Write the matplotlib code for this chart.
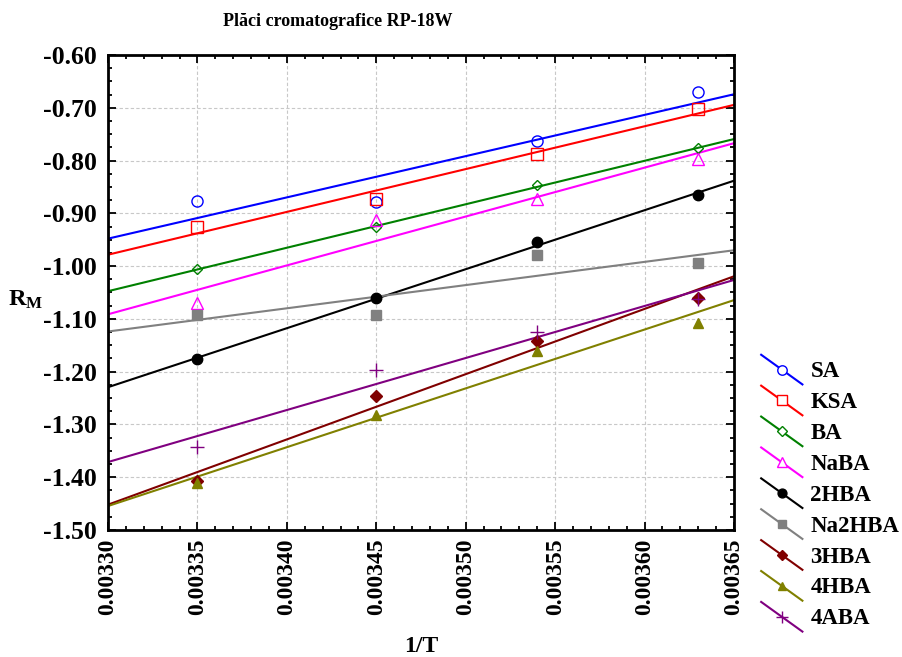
import numpy as np
import matplotlib
matplotlib.use("Agg")
import matplotlib.pyplot as plt
from matplotlib.lines import Line2D
from matplotlib.legend_handler import HandlerBase
from matplotlib.ticker import MultipleLocator, FormatStrFormatter

# 1/T values of the four temperatures
inv_t = [0.003350, 0.003450, 0.003540, 0.003630]

# R_M values per compound
sa = [-0.877, -0.879, -0.763, -0.671]
ksa = [-0.926, -0.873, -0.788, -0.702]
ba = [-1.006, -0.926, -0.847, -0.777]
naba = [-1.069, -0.913, -0.873, -0.797]
hba2 = [-1.176, -1.061, -0.955, -0.865]
na2hba = [-1.093, -1.092, -0.978, -0.994]
hba3 = [-1.407, -1.247, -1.142, -1.060]
hba4 = [-1.411, -1.282, -1.160, -1.107]
aba4 = [-1.343, -1.196, -1.124, -1.063]

series = [
    ("SA", sa, "#0000ff", "o", False, 8),
    ("KSA", ksa, "#ff0000", "s", False, 8),
    ("BA", ba, "#008000", "D", False, 5.5),
    ("NaBA", naba, "#ff00ff", "^", False, 8),
    ("2HBA", hba2, "#000000", "o", True, 7.5),
    ("Na2HBA", na2hba, "#808080", "s", True, 7.5),
    ("3HBA", hba3, "#800000", "D", True, 6),
    ("4HBA", hba4, "#808000", "^", True, 7.5),
    ("4ABA", aba4, "#800080", "+", True, 10),
]

plt.rcParams["font.family"] = "Liberation Serif"
plt.rcParams["font.weight"] = "bold"
plt.rcParams["mathtext.fontset"] = "custom"
plt.rcParams["mathtext.bf"] = "Liberation Serif:bold"
plt.rcParams["mathtext.rm"] = "Liberation Serif:bold"


class DiagonalHandler(HandlerBase):
    # legend key drawn as a falling diagonal with the marker in the middle
    def create_artists(self, legend, orig_handle, xdescent, ydescent,
                       width, height, fontsize, trans):
        x0, x1 = -xdescent, width - xdescent
        y0, y1 = height * 1.4 - ydescent, -height * 0.45 - ydescent
        ln = Line2D([x0, x1], [y0, y1], color=orig_handle.get_color(),
                    lw=orig_handle.get_linewidth())
        mk = Line2D([(x0 + x1) / 2], [(y0 + y1) / 2],
                    marker=orig_handle.get_marker(),
                    markersize=orig_handle.get_markersize() * 0.85,
                    markerfacecolor=orig_handle.get_markerfacecolor(),
                    markeredgecolor=orig_handle.get_markeredgecolor(),
                    markeredgewidth=orig_handle.get_markeredgewidth(),
                    ls="none")
        ln.set_transform(trans)
        mk.set_transform(trans)
        return [ln, mk]


fig = plt.figure(figsize=(9.03, 6.57), dpi=100)
ax = fig.add_axes([108 / 903, 1 - 530 / 657, 626 / 903, 475 / 657])

x = np.array(inv_t)
xfit = np.array([0.00330, 0.00365])
handles = []
for name, vals, col, mk, filled, ms in series:
    # least-squares regression line over the full axis span
    k, b = np.polyfit(x, np.array(vals), 1)
    ax.plot(xfit, k * xfit + b, color=col, lw=1.5, zorder=2)
    ax.plot(x, vals, ls="none", marker=mk, markersize=ms,
            markerfacecolor=col if filled else "none", markeredgecolor=col,
            markeredgewidth=1.0, zorder=3)
    handles.append(Line2D([], [], color=col, lw=1.5, marker=mk, markersize=ms,
                          markerfacecolor=col if filled else "white",
                          markeredgecolor=col, markeredgewidth=1.0, label=name))

ax.set_xlim(0.00330, 0.00365)
ax.set_ylim(-1.50, -0.60)
ax.xaxis.set_major_locator(MultipleLocator(0.00005))
ax.xaxis.set_minor_locator(MultipleLocator(0.00001))
ax.yaxis.set_major_locator(MultipleLocator(0.1))
ax.yaxis.set_minor_locator(MultipleLocator(0.025))
ax.xaxis.set_major_formatter(FormatStrFormatter("%.5f"))
ax.yaxis.set_major_formatter(FormatStrFormatter("%.2f"))
ax.tick_params(which="both", direction="in", top=True, right=True, width=1.3)
ax.tick_params(which="major", length=6)
ax.tick_params(which="minor", length=3)
ax.tick_params(axis="x", labelsize=17, rotation=90, pad=6)
ax.tick_params(axis="y", labelsize=18.5, pad=8)
ax.grid(True, which="major", color="#c8c8c8", ls=(0, (3, 2)), lw=0.8)
ax.set_axisbelow(True)
for sp in ax.spines.values():
    sp.set_linewidth(2)

fig.text(338 / 903, 1 - 21 / 657, "Plăci cromatografice RP-18W",
         ha="center", va="center", fontsize=13, fontweight="bold")
fig.text(26 / 903, 1 - 300 / 657, r"$\mathbf{R_M}$", ha="center", va="center",
         fontsize=17.5)
fig.text(421 / 903, 1 - 646 / 657, "1/T", ha="center", va="center",
         fontsize=17, fontweight="bold")

fig.legend(handles=handles, loc="upper left",
           bbox_to_anchor=(752 / 903, 1 - 352 / 657), frameon=False,
           fontsize=16.5, labelspacing=0.43, handlelength=1.8,
           handletextpad=0.35, borderaxespad=0,
           handler_map={Line2D: DiagonalHandler()})

fig.savefig("out.png", dpi=100)
